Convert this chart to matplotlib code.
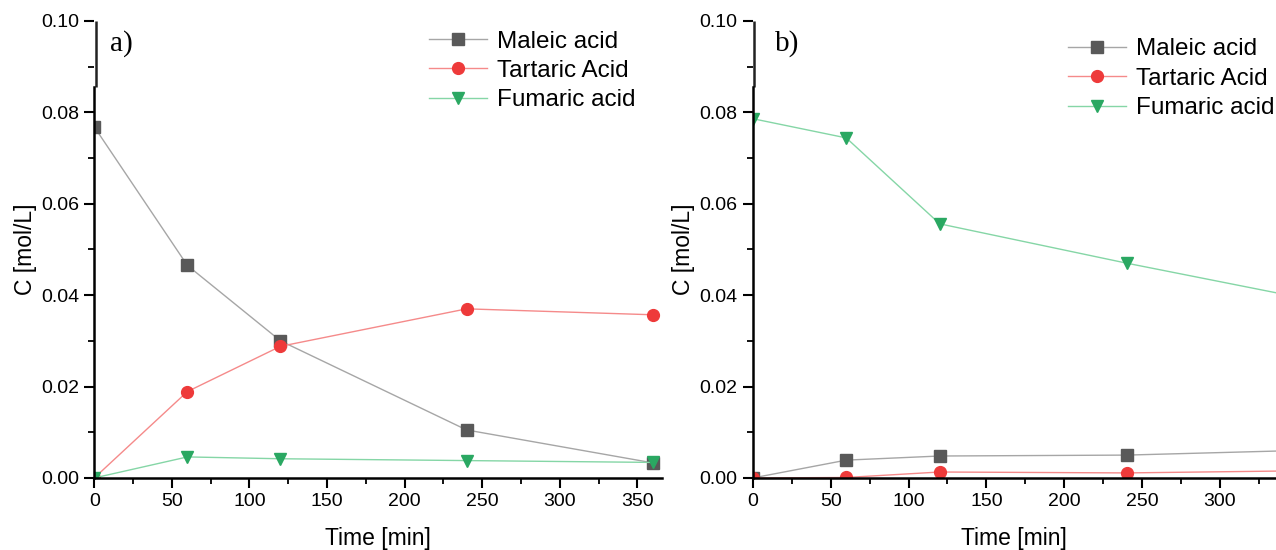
import matplotlib
matplotlib.use("Agg")
import matplotlib.pyplot as plt
import matplotlib.transforms as mtransforms
from matplotlib.ticker import MultipleLocator

plt.rcParams['font.family'] = ['Liberation Sans', 'DejaVu Sans']

# data
time = [0, 60, 120, 240, 360]

maleic_a = [0.0768, 0.0465, 0.0300, 0.0105, 0.0033]
tartaric_a = [0.0, 0.0189, 0.0288, 0.0370, 0.0357]
fumaric_a = [0.0, 0.0046, 0.0042, 0.0038, 0.0034]

maleic_b = [0.0, 0.0039, 0.0048, 0.0050, 0.0061]
tartaric_b = [0.0, 0.0001, 0.0013, 0.0011, 0.0016]
fumaric_b = [0.0786, 0.0744, 0.0556, 0.0470, 0.0389]

labels = ['Maleic acid', 'Tartaric Acid', 'Fumaric acid']
markers = ['s', 'o', 'v']
line_colors = ['#a6a6a6', '#f58a8a', '#85d6a6']
marker_colors = ['#595959', '#ee3a3a', '#2aa862']

fig = plt.figure(figsize=(12.76, 5.5), dpi=100)
ax1 = fig.add_axes([0.0739, 0.131, 0.445, 0.831])
ax2 = fig.add_axes([0.590, 0.131, 0.410, 0.831])


def draw_panel(ax, series, xmax, tag, tag_x, legend_anchor):
    for vals, lab, m, lc, mc in zip(series, labels, markers, line_colors, marker_colors):
        ax.plot(time, vals, color=lc, lw=1.0, marker=m, markersize=8.5,
                markerfacecolor=mc, markeredgecolor=mc, label=lab)
    ax.set_xlim(0, xmax)
    ax.set_ylim(0, 0.10)
    ax.xaxis.set_major_locator(MultipleLocator(50))
    ax.xaxis.set_minor_locator(MultipleLocator(25))
    ax.yaxis.set_major_locator(MultipleLocator(0.02))
    ax.yaxis.set_minor_locator(MultipleLocator(0.01))
    ax.yaxis.set_major_formatter(lambda v, p: f'{v:.2f}')
    ax.tick_params(which='major', direction='out', length=7, width=1.5, labelsize=14, pad=4)
    ax.tick_params(which='minor', direction='out', length=4, width=1.3)
    ax.spines['top'].set_visible(False)
    ax.spines['right'].set_visible(False)
    ax.spines['bottom'].set_linewidth(1.8)
    ax.spines['left'].set_linewidth(1.8)
    # broken y axis: upper part shifted a bit to the right
    ax.spines['left'].set_bounds(0, 0.0855)
    tr = mtransforms.offset_copy(ax.get_yaxis_transform(), fig=fig, x=1.5, y=0, units='dots')
    ax.plot([0, 0], [0.0855, 0.1], transform=tr, color='#222222', lw=1.8,
            clip_on=False, solid_capstyle='butt')
    ax.set_xlabel('Time [min]', fontsize=16.5, labelpad=12)
    ax.set_ylabel('C [mol/L]', fontsize=16.5, labelpad=3)
    ax.text(tag_x, 0.95, tag, transform=ax.transAxes,
            fontsize=21, family='Liberation Serif', va='center')
    ax.legend(loc='upper right', bbox_to_anchor=legend_anchor, frameon=False,
              fontsize=17.5, handlelength=2.4, handletextpad=0.4, labelspacing=0.3,
              borderaxespad=0)


draw_panel(ax1, [maleic_a, tartaric_a, fumaric_a], 366, 'a)', 0.028, (0.97, 1.0))
draw_panel(ax2, [maleic_b, tartaric_b, fumaric_b], 336, 'b)', 0.042, (1.015, 0.983))

fig.savefig('out.png', dpi=100)
